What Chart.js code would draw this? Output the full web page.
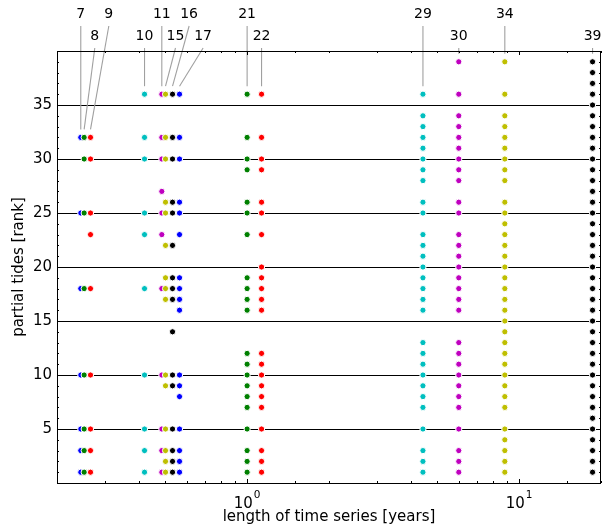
<!DOCTYPE html>
<html><head><meta charset="utf-8">
<script src="https://cdn.jsdelivr.net/npm/chart.js@4/dist/chart.umd.min.js"></script>
<style>html,body{margin:0;padding:0;background:#fff}canvas{display:block}</style>
</head><body>
<canvas id="c" width="603" height="527"></canvas>
<script>
// number of partial tides of each analysis (also the top labels)
const tideCounts = [7, 8, 9, 10, 11, 15, 16, 17, 21, 22, 29, 30, 34, 39];
// length of the time series [years] of each analysis
const seriesYears = [0.2446, 0.2517, 0.2656, 0.4196, 0.4857, 0.5012, 0.5318, 0.5643, 1.0, 1.13, 4.43, 6.0, 8.86, 18.62];
// x position [years] of each top label
const labelYears = [0.2446, 0.2754, 0.3101, 0.4196, 0.4857, 0.5454, 0.612, 0.689, 1.0, 1.13, 4.43, 6.0, 8.86, 18.62];
const seriesColors = ['#0000ff', '#008000', '#ff0000', '#00bfbf', '#bf00bf', '#bfbf00', '#000000',
                      '#0000ff', '#008000', '#ff0000', '#00bfbf', '#bf00bf', '#bfbf00', '#000000'];
// ranks of the partial tides in each analysis
const ranks7  = [1, 3, 5, 10, 18, 25, 32];
const ranks8  = [1, 3, 5, 10, 18, 25, 30, 32];
const ranks9  = [1, 3, 5, 10, 18, 23, 25, 30, 32];
const ranks10 = [1, 3, 5, 10, 18, 23, 25, 30, 32, 36];
const ranks11 = [1, 3, 5, 10, 18, 23, 25, 27, 30, 32, 36];
const ranks15 = [1, 2, 3, 5, 9, 10, 17, 18, 19, 22, 25, 26, 30, 32, 36];
const ranks16 = [1, 2, 3, 5, 9, 10, 14, 17, 18, 19, 22, 25, 26, 30, 32, 36];
const ranks17 = [1, 2, 3, 5, 8, 9, 10, 16, 17, 18, 19, 23, 25, 26, 30, 32, 36];
const ranks21 = [1, 2, 3, 5, 7, 8, 9, 10, 11, 12, 16, 17, 18, 19, 23, 25, 26, 29, 30, 32, 36];
const ranks22 = [1, 2, 3, 5, 7, 8, 9, 10, 11, 12, 16, 17, 18, 19, 20, 23, 25, 26, 29, 30, 32, 36];
const ranks29 = [1, 2, 3, 5, 7, 8, 9, 10, 11, 12, 13, 16, 17, 18, 19, 20, 21, 22, 23, 25, 26, 28, 29, 30, 31, 32, 33, 34, 36];
const ranks30 = [1, 2, 3, 5, 7, 8, 9, 10, 11, 12, 13, 16, 17, 18, 19, 20, 21, 22, 23, 25, 26, 28, 29, 30, 31, 32, 33, 34, 36, 39];
const ranks34 = [1, 2, 3, 4, 5, 7, 8, 9, 10, 11, 12, 13, 14, 15, 16, 17, 18, 19, 20, 21, 22, 23, 24, 25, 26, 28, 29, 30, 31, 32, 33, 34, 36, 39];
const ranks39 = [1, 2, 3, 4, 5, 6, 7, 8, 9, 10, 11, 12, 13, 14, 15, 16, 17, 18, 19, 20, 21, 22, 23, 24, 25, 26, 27, 28, 29, 30, 31, 32, 33, 34, 35, 36, 37, 38, 39];
const allRanks = [ranks7, ranks8, ranks9, ranks10, ranks11, ranks15, ranks16, ranks17, ranks21, ranks22, ranks29, ranks30, ranks34, ranks39];
// axis tick labels
const yTickLabels = [5, 10, 15, 20, 25, 30, 35];
const xTickValues = [1, 10];
const xTickBase = ['10', '10'];
const xTickExp = ['0', '1'];

const FONT = 'DejaVu Sans';

const datasets = tideCounts.map((n, i) => ({
  label: String(n),
  data: allRanks[i].map(r => ({x: seriesYears[i], y: r})),
  showLine: false,
  pointRadius: 3.1,
  pointHoverRadius: 3.1,
  pointBorderWidth: 1,
  pointBorderColor: '#ffffff',
  pointBackgroundColor: seriesColors[i],
  order: -i
}));

const decorPlugin = {
  id: 'decor',
  afterDatasetsDraw(chart) {
    const {ctx, chartArea: a, scales: {x, y}} = chart;
    ctx.save();
    // leader lines and labels
    ctx.strokeStyle = '#a0a0a0';
    ctx.lineWidth = 1.1;
    ctx.fillStyle = '#000';
    ctx.font = '14px "' + FONT + '"';
    ctx.textAlign = 'center';
    ctx.textBaseline = 'middle';
    tideCounts.forEach((n, i) => {
      const top = Math.max(...allRanks[i]);
      const px = x.getPixelForValue(seriesYears[i]);
      const py = y.getPixelForValue(top) - 8;
      const lx = x.getPixelForValue(labelYears[i]);
      const ly = (i % 2 === 0) ? a.top - 37 : a.top - 15;
      ctx.beginPath();
      ctx.moveTo(lx, ly + 12);
      ctx.lineTo(px, py);
      ctx.stroke();
      ctx.fillText(String(n), lx, ly);
    });
    // x tick labels (10 with superscript exponent)
    ctx.textAlign = 'left';
    ctx.textBaseline = 'alphabetic';
    xTickValues.forEach((v, i) => {
      const px = x.getPixelForValue(v);
      ctx.font = '15px "' + FONT + '"';
      const wb = ctx.measureText(xTickBase[i]).width;
      ctx.font = '10.5px "' + FONT + '"';
      const we = ctx.measureText(xTickExp[i]).width;
      const x0 = px - (wb + we + 1) / 2;
      ctx.font = '15px "' + FONT + '"';
      ctx.fillText(xTickBase[i], x0, a.bottom + 25);
      ctx.font = '10.5px "' + FONT + '"';
      ctx.fillText(xTickExp[i], x0 + wb + 1, a.bottom + 15);
    });
    // inward ticks
    ctx.strokeStyle = '#000';
    ctx.lineWidth = 1;
    ctx.beginPath();
    x.ticks.forEach(t => {
      const lg = Math.log10(t.value);
      const major = Math.abs(lg - Math.round(lg)) < 1e-9;
      const L = major ? 4 : 2;
      const px = Math.round(x.getPixelForValue(t.value)) + 0.5;
      ctx.moveTo(px, a.bottom); ctx.lineTo(px, a.bottom - L);
      ctx.moveTo(px, a.top); ctx.lineTo(px, a.top + L);
    });
    for (let v = y.min + 1; v < y.max; v++) {
      const L = (v % 5 === 0) ? 4 : 2;
      const py = Math.round(y.getPixelForValue(v)) + 0.5;
      ctx.moveTo(a.left, py); ctx.lineTo(a.left + L, py);
      ctx.moveTo(a.right, py); ctx.lineTo(a.right - L, py);
    }
    ctx.stroke();
    // frame
    ctx.strokeRect(a.left + 0.5, a.top + 0.5, a.right - a.left - 1, a.bottom - a.top);
    ctx.restore();
  }
};

new Chart(document.getElementById('c'), {
  type: 'scatter',
  data: {datasets},
  options: {
    responsive: false,
    animation: false,
    events: [],
    devicePixelRatio: 1,
    layout: {autoPadding: false, padding: {top: 51, right: 2, left: 0, bottom: 0}},
    plugins: {legend: {display: false}, tooltip: {enabled: false}},
    scales: {
      x: {
        type: 'logarithmic',
        position: 'bottom',
        min: 0.2,
        max: 20,
        grid: {display: false, drawTicks: false},
        border: {display: false},
        ticks: {
          autoSkip: false,
          maxRotation: 0,
          minRotation: 0,
          padding: 9,
          color: '#000',
          font: {family: FONT, size: 15},
          callback: () => ''
        },
        title: {display: true, text: 'length of time series [years]', color: '#000',
                font: {family: FONT, size: 15}, padding: {top: 0, bottom: 1}},
        afterFit: (s) => { s.height = 44; s.paddingLeft = 0; s.paddingRight = 0; }
      },
      y: {
        type: 'linear',
        min: 0,
        max: 40,
        grid: {
          drawTicks: false,
          lineWidth: 1,
          color: (c) => (c.tick && yTickLabels.includes(c.tick.value)) ? '#000' : 'rgba(0,0,0,0)'
        },
        border: {display: false},
        ticks: {
          stepSize: 5,
          padding: 5,
          color: '#000',
          font: {family: FONT, size: 15},
          callback: (v) => yTickLabels.includes(v) ? String(v) : ''
        },
        title: {display: true, text: 'partial tides [rank]', color: '#000',
                font: {family: FONT, size: 15}, padding: {top: 10, bottom: 0}},
        afterFit: (s) => { s.width = 57; s.paddingTop = 0; s.paddingBottom = 0; }
      }
    }
  },
  plugins: [decorPlugin]
});
</script>
</body></html>
